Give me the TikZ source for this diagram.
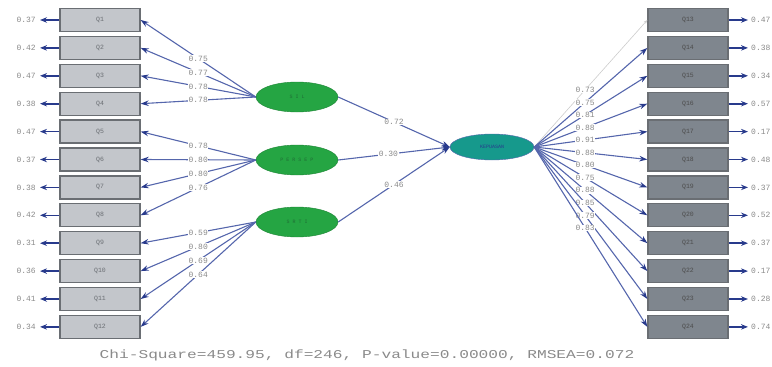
\documentclass[tikz,border=0pt]{standalone}
\usepackage{fontspec}
\setmonofont{Liberation Mono}
\usetikzlibrary{arrows.meta,shapes.geometric}
\definecolor{lbox}{HTML}{C3C6CB}
\definecolor{rbox}{HTML}{7F868E}
\definecolor{bedge}{HTML}{6A6E73}
\definecolor{lnk}{HTML}{5566AC}
\definecolor{lnkd}{HTML}{283A8C}
\definecolor{lat}{HTML}{25A543}
\definecolor{latd}{HTML}{1F6E35}
\definecolor{mid}{HTML}{16998C}
\definecolor{txt}{HTML}{8A8A8A}
\tikzset{
  lbx/.style={draw=bedge,line width=1.3pt,fill=lbox,minimum width=80pt,minimum height=23pt,inner sep=0pt,font=\ttfamily\fontsize{6.5}{6.5}\selectfont,text=bedge},
  rbx/.style={lbx,fill=rbox,text=black!70},
  latent/.style={ellipse,fill=lat,draw=lat!80!black,minimum width=82pt,minimum height=30pt,inner sep=0pt,font=\ttfamily\fontsize{5}{5}\selectfont,text=latd},
  central/.style={ellipse,fill=mid,draw=lnk,minimum width=84pt,minimum height=26pt,inner sep=0pt,font=\ttfamily\fontsize{5}{5}\selectfont,text=lnkd},
  lk/.style={draw=lnk,line width=1.1pt,-{Stealth[length=8pt,width=5.5pt,color=lnkd]}},
  lbl/.style={fill=white,inner sep=0.6pt,font=\ttfamily\fontsize{8}{8}\selectfont,text=txt},
  err/.style={draw=lnkd,line width=1.6pt,-{Stealth[length=7pt,width=5.5pt]}},
  errl/.style={font=\ttfamily\fontsize{8}{8}\selectfont,text=txt,inner sep=0pt},
}
\begin{document}
\begin{tikzpicture}[x=1pt,y=-1pt]
\useasboundingbox (0,0) rectangle (772,367);
% left boxes
\foreach \i/\e in {1/0.37,2/0.42,3/0.47,4/0.38,5/0.47,6/0.37,7/0.38,8/0.42,9/0.31,10/0.36,11/0.41,12/0.34}{
  \node[lbx] (q\i) at (100,{20+(\i-1)*27.9}) {Q\i};
  \coordinate (le\i) at (40,{20+(\i-1)*27.9});
  \draw[err] (q\i.west) -- (le\i);
  \node[errl,anchor=east] at (36,{20+(\i-1)*27.9}) {\e};
}
% right boxes
\foreach \i/\e in {13/0.47,14/0.38,15/0.34,16/0.57,17/0.17,18/0.48,19/0.37,20/0.52,21/0.37,22/0.17,23/0.28,24/0.74}{
  \node[rbx] (q\i) at (688,{20+(\i-13)*27.9}) {Q\i};
  \coordinate (re\i) at (748,{20+(\i-13)*27.9});
  \draw[err] (q\i.east) -- (re\i);
  \node[errl,anchor=west] at (751,{20+(\i-13)*27.9}) {\e};
}
% latent variables
\node[latent] (s1) at (297,97) {S I L};
\node[latent] (s2) at (297,160) {P E R S E P};
\node[latent] (s3) at (297,222) {S R T I};
\node[central] (c) at (492,147) {KEPUASAN};
% loadings left
\foreach \i/\v in {1/0.75,2/0.77,3/0.78,4/0.78}{
  \draw[lk] (s1.west) -- node[lbl,pos=0.5]{\v} (q\i.east);}
\foreach \i/\v in {5/0.78,6/0.80,7/0.80,8/0.76}{
  \draw[lk] (s2.west) -- node[lbl,pos=0.5]{\v} (q\i.east);}
\foreach \i/\v in {9/0.59,10/0.80,11/0.69,12/0.64}{
  \draw[lk] (s3.west) -- node[lbl,pos=0.5]{\v} (q\i.east);}
% structural paths
\draw[lk] (s1.east) -- node[lbl,pos=0.5]{0.72} (c.west);
\draw[lk] (s2.east) -- node[lbl,pos=0.45]{0.30} (c.west);
\draw[lk] (s3.east) -- node[lbl,pos=0.5]{0.46} (c.west);
% loadings right
\draw[draw=black!20,line width=0.6pt,-{Stealth[length=4pt,width=3pt]}] (c.east) -- node[lbl,pos=0.45]{0.73} (q13.west);
\foreach \i/\v in {14/0.75,15/0.81,16/0.88,17/0.91,18/0.88,19/0.80,20/0.75,21/0.88,22/0.85,23/0.79,24/0.83}{
  \draw[lk] (c.east) -- node[lbl,pos=0.45]{\v} (q\i.west);}
% footer
\node[font=\ttfamily\fontsize{12}{12}\selectfont,text=txt,xscale=1.35] (ft) at (367,355) {Chi-Square=459.95, df=246, P-value=0.00000, RMSEA=0.072};
\end{tikzpicture}
\end{document}
